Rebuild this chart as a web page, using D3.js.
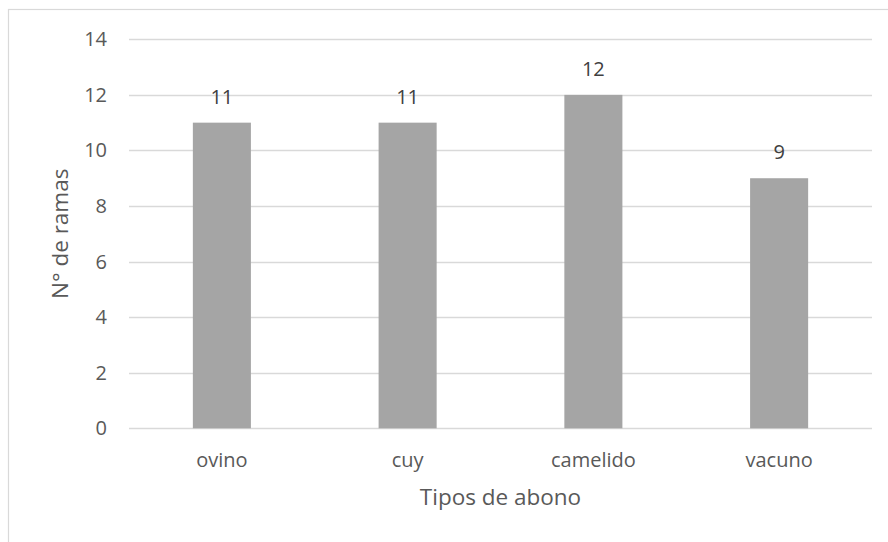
<!DOCTYPE html>
<html><head><meta charset="utf-8">
<script src="https://cdn.jsdelivr.net/npm/d3@7"></script>
<style>html,body{margin:0;padding:0;background:#fff}svg{display:block}</style>
</head><body>
<svg id="c" width="888" height="542"></svg>
<script>
const categories = ["ovino", "cuy", "camelido", "vacuno"];
const values = [11, 11, 12, 9];
const yTicks = [0, 2, 4, 6, 8, 10, 12, 14];
const xTitle = "Tipos de abono";
const yTitle = "N° de ramas";

(function () {
const svg = d3.select("#c");
const font = "'Open Sans', sans-serif";
const textColor = "#595959";
const gridColor = "#d9d9d9";

svg.append("rect").attr("x", 8.5).attr("y", 9.5).attr("width", 900).attr("height", 600)
  .attr("fill", "#fff").attr("stroke", gridColor).attr("stroke-width", 1.2);

const pL = 129, pR = 872, pT = 39.3, pB = 428.3;
const x = d3.scaleBand().domain(categories).range([pL, pR]).padding(0);
const y = d3.scaleLinear().domain([0, 14]).range([pB, pT]);

svg.append("g").selectAll("line").data(yTicks).join("line")
  .attr("x1", pL).attr("x2", pR)
  .attr("y1", d => Math.round(y(d)) + 0.5).attr("y2", d => Math.round(y(d)) + 0.5)
  .attr("stroke", gridColor).attr("stroke-width", 1.3);

svg.append("g").selectAll("text").data(yTicks).join("text")
  .attr("x", 107).attr("y", d => y(d) + 7)
  .attr("text-anchor", "end").attr("font-family", font).attr("font-size", 20)
  .attr("fill", textColor).text(d => d);

const bw = x.bandwidth() * 0.3125;
svg.append("g").selectAll("rect").data(values).join("rect")
  .attr("x", (d, i) => x(categories[i]) + x.bandwidth() / 2 - bw / 2)
  .attr("y", d => y(d)).attr("width", bw).attr("height", d => y(0) - y(d))
  .attr("fill", "#a5a5a5");

svg.append("g").selectAll("text").data(values).join("text")
  .attr("x", (d, i) => x(categories[i]) + x.bandwidth() / 2)
  .attr("y", d => y(d) - 19)
  .attr("text-anchor", "middle").attr("font-family", font).attr("font-size", 20)
  .attr("fill", "#404040").text(d => d);

svg.append("g").selectAll("text").data(categories).join("text")
  .attr("x", d => x(d) + x.bandwidth() / 2).attr("y", 467)
  .attr("text-anchor", "middle").attr("font-family", font).attr("font-size", 20)
  .attr("fill", textColor).text(d => d);

svg.append("text").attr("x", (pL + pR) / 2).attr("y", 505)
  .attr("text-anchor", "middle").attr("font-family", font).attr("font-size", 22.5)
  .attr("fill", textColor).text(xTitle);

svg.append("text").attr("transform", `translate(68,${(pT + pB) / 2}) rotate(-90)`)
  .attr("text-anchor", "middle").attr("font-family", font).attr("font-size", 22.5)
  .attr("fill", textColor).text(yTitle);
})();
</script>
</body></html>
